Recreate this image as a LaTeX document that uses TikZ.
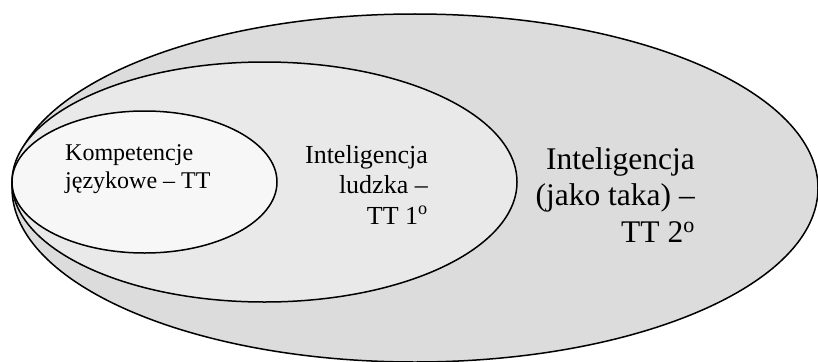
\documentclass[tikz,border=0pt]{standalone}
\usepackage{fontspec}
\newfontfamily\tnr{Liberation Serif}
\tikzset{
  ring/.style={draw=black, line width=1.5pt},
  lbl/.style={inner sep=0pt, font=\tnr},
}
\definecolor{outerfill}{HTML}{DCDCDC}
\definecolor{midfill}{HTML}{E9E9E9}
\definecolor{innerfill}{HTML}{F7F7F7}
\begin{document}
\begin{tikzpicture}[x=1pt, y=-1pt]
\useasboundingbox (0,0) rectangle (818,361);
\fill[white] (0,0) rectangle (818,361);
% outer
\draw[ring, fill=outerfill] (415,188) ellipse [x radius=403, y radius=174];
% middle
\draw[ring, fill=midfill] (264.5,182) ellipse [x radius=252.5, y radius=120];
% inner
\draw[ring, fill=innerfill] (144.5,182) ellipse [x radius=132.5, y radius=71];
% labels (base anchor = baseline of the last line)
\node[lbl, anchor=base west, align=left, font=\tnr\fontsize{24}{28}\selectfont] (small) at (65,188)
  {Kompetencje\\językowe – TT};
\node[lbl, anchor=base east, align=right, font=\tnr\fontsize{26}{30.5}\selectfont] (mid) at (428,224)
  {Inteligencja\\ludzka –\\TT 1\textsuperscript{o}};
\node[lbl, anchor=base east, align=right, font=\tnr\fontsize{31.5}{36.5}\selectfont] (big) at (695,242)
  {Inteligencja\\(jako taka) –\\TT 2\textsuperscript{o}};
\end{tikzpicture}
\end{document}
